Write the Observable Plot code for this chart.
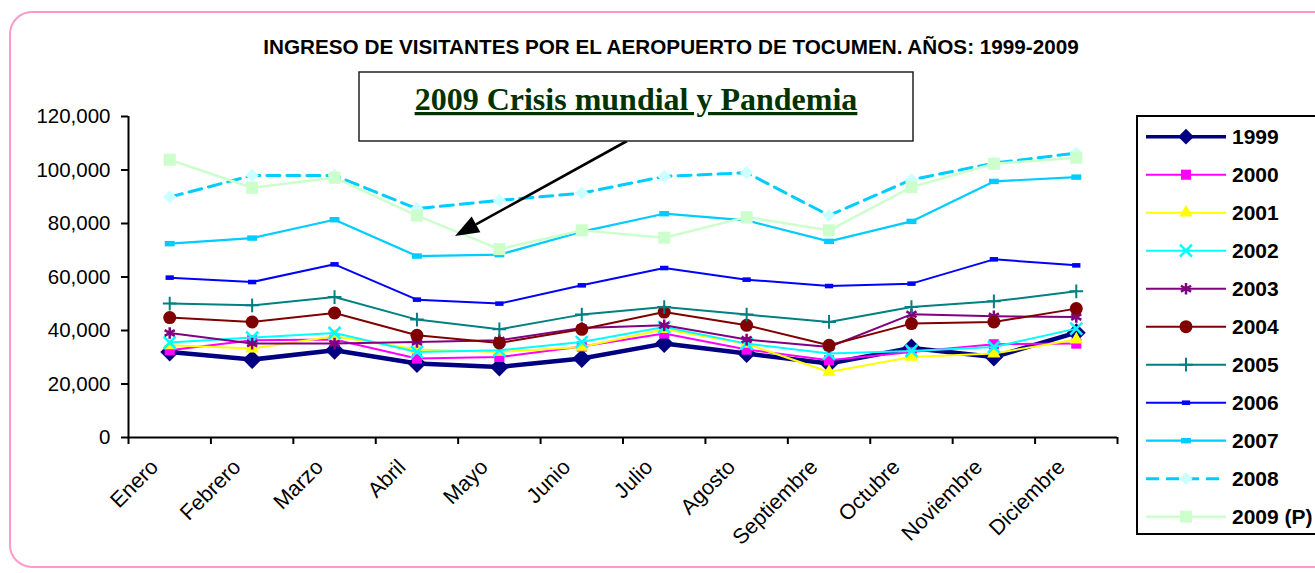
<!DOCTYPE html>
<html>
<head>
<meta charset="utf-8">
<script src="https://cdn.jsdelivr.net/npm/d3@7"></script>
<script src="https://cdn.jsdelivr.net/npm/@observablehq/plot@0.6"></script>
<style>
  html, body { margin: 0; padding: 0; background: #ffffff; }
  #chart { position: relative; width: 1315px; height: 573px; overflow: hidden; }
</style>
</head>
<body>
<div id="chart"></div>
<script>
// ---------- DATA ----------
const months = ["Enero","Febrero","Marzo","Abril","Mayo","Junio","Julio","Agosto","Septiembre","Octubre","Noviembre","Diciembre"];
const years = ["1999","2000","2001","2002","2003","2004","2005","2006","2007","2008","2009 (P)"];
const yTicks = [0, 20000, 40000, 60000, 80000, 100000, 120000];

const v1999 = [31970, 29130, 32600, 27640, 26370, 29500, 35100, 31370, 27640, 33470, 30100, 39200];
const v2000 = [32600, 36340, 36600, 29500, 30100, 34000, 38850, 32870, 28870, 31970, 34850, 35100];
const v2001 = [34470, 33240, 37830, 32870, 31970, 33840, 40500, 35000, 24500, 30100, 31370, 36600];
const v2002 = [35480, 37350, 39070, 31970, 32600, 35700, 41300, 35100, 31370, 32350, 33840, 40700];
const v2003 = [39070, 35110, 35110, 35700, 36340, 40940, 41940, 36600, 33840, 46050, 45300, 45040];
const v2004 = [44820, 43180, 46540, 38200, 35330, 40450, 46900, 41940, 34470, 42580, 43180, 48180];
const v2005 = [50050, 49410, 52510, 44070, 40450, 45940, 48780, 45940, 43180, 48780, 50900, 54640];
const v2006 = [59760, 58120, 64730, 51540, 50050, 56880, 63350, 59010, 56620, 57520, 66600, 64350];
const v2007 = [72460, 74550, 81420, 67830, 68350, 76940, 83660, 81160, 73320, 80790, 95730, 97330];
const v2008 = [89860, 97970, 97970, 85530, 88630, 91360, 97600, 98980, 83030, 96360, 102560, 106300];
const v2009 = [103830, 93380, 97110, 82920, 70440, 77430, 74700, 82390, 77430, 93600, 102340, 104580];

const seriesValues = [v1999, v2000, v2001, v2002, v2003, v2004, v2005, v2006, v2007, v2008, v2009];

const titleText = "INGRESO DE VISITANTES POR EL AEROPUERTO DE TOCUMEN. AÑOS: 1999-2009";
const noteText = "2009 Crisis mundial y Pandemia";

// ---------- STYLES ----------
const dashSym = { draw(ctx, size) { const w = Math.sqrt(size) * 1.3, h = w * 0.55; ctx.rect(-w / 2, -h / 2, w, h); } };
const styles = [
  {stroke: "#000080", width: 4.5, sym: d3.symbolDiamond2, r: 8.5, fill: "#000080", mstroke: "none", mw: 0},
  {stroke: "#FF00FF", width: 2,   sym: d3.symbolSquare,   r: 5.7, fill: "#FF00FF", mstroke: "none", mw: 0},
  {stroke: "#FFFF00", width: 2,   sym: d3.symbolTriangle, r: 5,   fill: "#FFFF00", mstroke: "none", mw: 0},
  {stroke: "#00FFFF", width: 2,   sym: d3.symbolTimes,    r: 5.5, fill: "none",    mstroke: "#00FFFF", mw: 2.5},
  {stroke: "#800080", width: 2,   sym: d3.symbolAsterisk, r: 5.5, fill: "none",    mstroke: "#800080", mw: 2.5},
  {stroke: "#800000", width: 2,   sym: d3.symbolCircle,   r: 6.5, fill: "#800000", mstroke: "none", mw: 0},
  {stroke: "#008080", width: 2,   sym: d3.symbolPlus,     r: 4.5, fill: "none",    mstroke: "#008080", mw: 2},
  {stroke: "#0000FF", width: 2,   sym: dashSym,           r: 3.6, fill: "#0000FF", mstroke: "none", mw: 0},
  {stroke: "#00CCFF", width: 2.2, sym: dashSym,           r: 4.3, fill: "#00CCFF", mstroke: "none", mw: 0},
  {stroke: "#00CCFF", width: 3,   sym: d3.symbolDiamond2, r: 6,   fill: "#CCFFFF", mstroke: "none", mw: 0, dash: "13,7"},
  {stroke: "#CCFFCC", width: 2.5, sym: d3.symbolSquare,   r: 6.8, fill: "#CCFFCC", mstroke: "none", mw: 0}
];

// ---------- TABLE ----------
const table = [];
years.forEach((yr, k) => seriesValues[k].forEach((v, i) => table.push({year: yr, i, month: months[i], value: v})));

const boundaries = d3.range(months.length + 1).map(d => d - 0.5);

const marks = [
  Plot.axisY(yTicks, {tickFormat: d3.format(","), tickSize: 7, tickPadding: 11, fontSize: 20.5, label: null, strokeWidth: 2}),
  Plot.axisX(boundaries, {tickSize: 7, tickFormat: () => "", label: null, strokeWidth: 2}),
  Plot.axisX(d3.range(months.length), {tickSize: 0, tickPadding: 26, tickRotate: -45, tickFormat: i => months[i], fontSize: 21.5, label: null, dx: -15}),
  Plot.ruleY([0], {stroke: "#000", strokeWidth: 2}),
  Plot.ruleX([-0.5], {stroke: "#000", strokeWidth: 2, y1: 0, y2: 120000})
];

years.forEach((yr, k) => {
  const s = styles[k];
  const rows = table.filter(d => d.year === yr);
  marks.push(Plot.line(rows, {x: "i", y: "value", stroke: s.stroke, strokeWidth: s.width, strokeDasharray: s.dash || null, strokeLinejoin: "round"}));
  marks.push(Plot.dot(rows, {x: "i", y: "value", symbol: s.sym, r: s.r, fill: s.fill, stroke: s.mstroke, strokeWidth: s.mw}));
});

const svg = Plot.plot({
  width: 1315,
  height: 573,
  marginLeft: 128,
  marginRight: 198,
  marginTop: 116,
  marginBottom: 136,
  style: {fontFamily: "'Liberation Sans', Arial, sans-serif", fontSize: "20px", background: "#ffffff", color: "#000", overflow: "visible"},
  x: {type: "linear", domain: [-0.5, 11.5], label: null},
  y: {domain: [0, 120000], label: null},
  marks
});

document.getElementById("chart").appendChild(svg);

// ---------- DECORATIONS ----------
const g = d3.select(svg).append("g").attr("text-anchor", "start");

// outer pink rounded border (right side runs past the picture edge)
g.append("rect").attr("x", 10).attr("y", 12).attr("width", 1360).attr("height", 555)
  .attr("rx", 22).attr("fill", "none").attr("stroke", "#FF99CC").attr("stroke-width", 2);

// title
g.append("text").attr("x", 671).attr("y", 54).attr("text-anchor", "middle")
  .style("font-family", "'Liberation Sans', Arial, sans-serif").style("font-weight", "bold").style("font-size", "20.7px")
  .text(titleText);

// annotation arrow
const ax1 = 627, ay1 = 141, ax2 = 455, ay2 = 236;
const ang = Math.atan2(ay2 - ay1, ax2 - ax1);
const hl = 24, hw = 9;
const bx = ax2 - hl * Math.cos(ang), by = ay2 - hl * Math.sin(ang);
g.append("line").attr("x1", ax1).attr("y1", ay1).attr("x2", bx).attr("y2", by)
  .attr("stroke", "#000").attr("stroke-width", 2.6);
g.append("path").attr("d", `M${ax2},${ay2}L${bx + hw * Math.sin(ang)},${by - hw * Math.cos(ang)}L${bx - hw * Math.sin(ang)},${by + hw * Math.cos(ang)}Z`)
  .attr("fill", "#000");

// annotation box
g.append("rect").attr("x", 359).attr("y", 72).attr("width", 554).attr("height", 69)
  .attr("fill", "#ffffff").attr("stroke", "#222").attr("stroke-width", 1.5);
g.append("text").attr("x", 636).attr("y", 110).attr("text-anchor", "middle")
  .style("font-family", "'Liberation Serif', 'Times New Roman', serif").style("font-weight", "bold").style("font-size", "32px")
  .style("text-decoration", "underline").attr("fill", "#003300")
  .text(noteText);

// legend
const lg = g.append("g");
lg.append("rect").attr("x", 1137).attr("y", 116).attr("width", 230).attr("height", 418)
  .attr("fill", "#ffffff").attr("stroke", "#000").attr("stroke-width", 2);
years.forEach((yr, k) => {
  const s = styles[k];
  const cy = 136.7 + k * 38;
  lg.append("line").attr("x1", 1146).attr("x2", 1226).attr("y1", cy).attr("y2", cy)
    .attr("stroke", s.stroke).attr("stroke-width", Math.min(s.width, 3.5)).attr("stroke-dasharray", s.dash || null);
  lg.append("path").attr("transform", `translate(1186,${cy})`)
    .attr("d", d3.symbol(s.sym, Math.PI * s.r * s.r * (k === 0 ? 0.7 : 1))())
    .attr("fill", s.fill).attr("stroke", s.mstroke).attr("stroke-width", s.mw);
  lg.append("text").attr("x", 1232).attr("y", cy).attr("dy", "0.36em").attr("text-anchor", "start")
    .style("font-family", "'Liberation Sans', Arial, sans-serif").style("font-weight", "bold").style("font-size", "21px")
    .text(yr);
});
</script>
</body>
</html>
